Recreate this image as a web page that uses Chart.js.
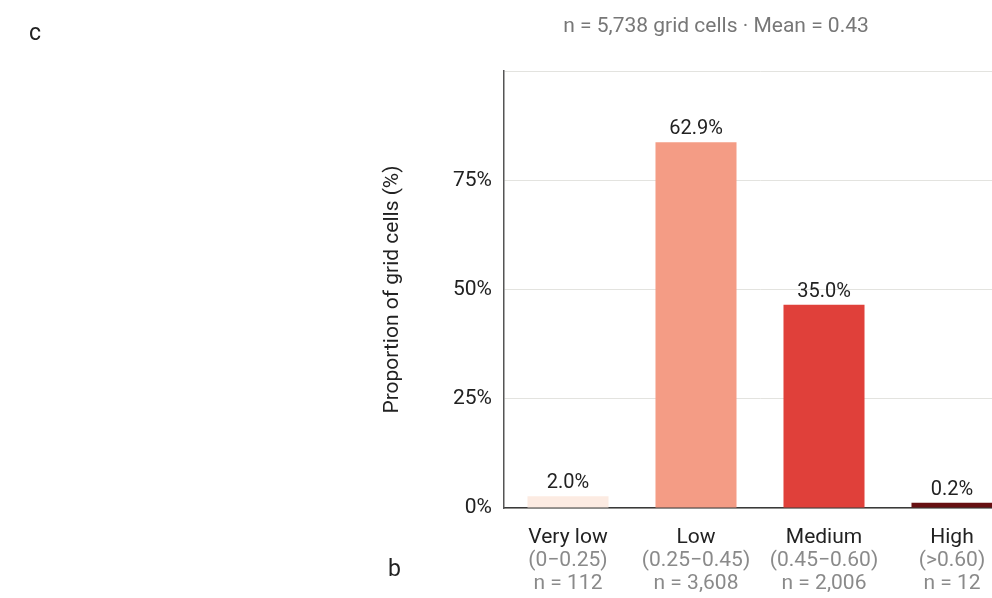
<!DOCTYPE html>
<html>
<head>
<meta charset="utf-8">
<script src="https://cdn.jsdelivr.net/npm/chart.js@4.4.1/dist/chart.umd.min.js"></script>
<style>
  html, body { margin: 0; padding: 0; background: #fff; }
  #wrap { position: relative; width: 992px; height: 598px; overflow: hidden; font-family: Roboto, "Noto Sans", sans-serif; }
  #box { position: absolute; left: 0; top: 0; width: 1017px; height: 598px; }
  .txt { position: absolute; white-space: nowrap; line-height: 1; }
</style>
</head>
<body>
<div id="wrap">
  <div id="box"><canvas id="c"></canvas></div>
  <div class="txt" style="left:29px; top:21px; font-size:23px; color:#222;">c</div>
  <div class="txt" style="left:388px; top:557px; font-size:23px; color:#222;">b</div>
  <div class="txt" style="left:716px; top:15px; transform:translateX(-50%); font-size:21px; color:#777;">n = 5,738 grid cells · Mean = 0.43</div>
</div>
<script>
// ---- data ----
const categories = ["Very low", "Low", "Medium", "High"];
const ranges = ["(0\u22120.25)", "(0.25\u22120.45)", "(0.45\u22120.60)", "(>0.60)"];
const counts = ["n = 112", "n = 3,608", "n = 2,006", "n = 12"];
const barHeights = [2.7, 83.7, 46.5, 1.2];          // bar heights as read against the y axis
const valueLabels = ["2.0%", "62.9%", "35.0%", "0.2%"]; // printed labels above bars
const barColors = ["#fcebe2", "#f49c85", "#e0403a", "#671012"];
const yTicks = [0, 25, 50, 75, 100];
const yTickLabels = ["0%", "25%", "50%", "75%", ""];

const FONT = "Roboto, 'Noto Sans', sans-serif";

const labelsPlugin = {
  id: 'labelsPlugin',
  afterDatasetsDraw(chart) {
    const ctx = chart.ctx;
    const meta = chart.getDatasetMeta(0);
    const xs = chart.scales.x;
    ctx.save();
    ctx.textAlign = 'center';
    ctx.textBaseline = 'alphabetic';
    meta.data.forEach((bar, i) => {
      ctx.font = "20px " + FONT;
      ctx.fillStyle = '#222';
      ctx.fillText(valueLabels[i], bar.x, bar.y - 8);
    });
    categories.forEach((c, i) => {
      const x = xs.getPixelForValue(i);
      ctx.textBaseline = 'middle';
      ctx.font = "21px " + FONT;
      ctx.fillStyle = '#222';
      ctx.fillText(c, x, 538);
      ctx.fillStyle = '#8a8a8a';
      ctx.fillText(ranges[i], x, 561);
      ctx.fillText(counts[i], x, 584);
    });
    ctx.restore();
  }
};

new Chart(document.getElementById('c'), {
  type: 'bar',
  data: {
    labels: categories,
    datasets: [{
      data: barHeights,
      backgroundColor: barColors,
      borderWidth: 0,
      barPercentage: 0.633,
      categoryPercentage: 1.0
    }]
  },
  options: {
    responsive: true,
    maintainAspectRatio: false,
    animation: false,
    layout: { padding: { left: 380, top: 71, right: 1, bottom: 0 } },
    plugins: { legend: { display: false }, tooltip: { enabled: false }, title: { display: false } },
    scales: {
      x: {
        grid: { display: false, drawTicks: false },
        border: { display: true, color: '#3a3a3a', width: 1.5 },
        ticks: { display: false },
        afterFit(s) { s.height = 90; }
      },
      y: {
        min: 0, max: 100,
        afterBuildTicks(s) { s.ticks = yTicks.map(v => ({ value: v })); },
        afterFit(s) { s.width = 124; },
        grid: { color: '#e3e3df', lineWidth: 1, drawTicks: false },
        border: { display: true, color: '#555', width: 1.5 },
        ticks: {
          padding: 12,
          color: '#222',
          font: { family: FONT, size: 21 },
          callback(v) { const i = yTicks.indexOf(v); return i >= 0 ? yTickLabels[i] : ''; }
        },
        title: {
          display: true,
          text: 'Proportion of grid cells (%)',
          color: '#222',
          font: { family: FONT, size: 21 },
          padding: { top: 0, bottom: 0 }
        }
      }
    }
  },
  plugins: [labelsPlugin]
});
</script>
</body>
</html>
